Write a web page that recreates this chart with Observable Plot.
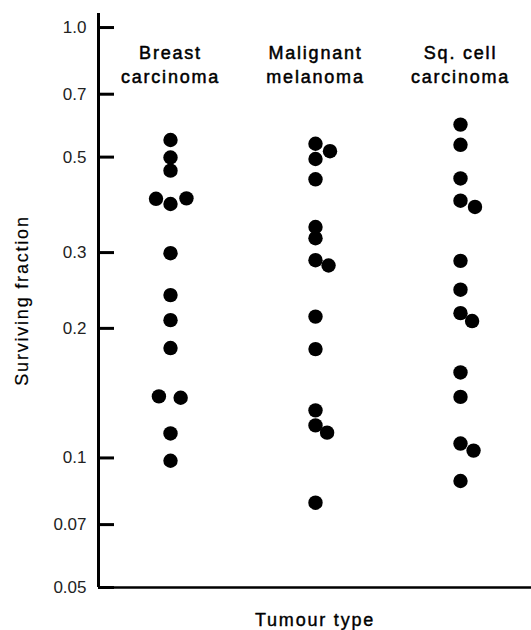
<!DOCTYPE html>
<html>
<head>
<meta charset="utf-8">
<script src="https://cdn.jsdelivr.net/npm/d3@7"></script>
<script src="https://cdn.jsdelivr.net/npm/@observablehq/plot@0.6"></script>
<style>
  html, body { margin: 0; padding: 0; background: #fff; }
  #chart svg { display: block; }
  .cat text, .cap text { letter-spacing: 1.8px; }
</style>
</head>
<body>
<div id="chart"></div>
<script>
// Categories
const categories = ["Breast\ncarcinoma", "Malignant\nmelanoma", "Sq. cell\ncarcinoma"];

// Surviving fractions (log scale)
const breastValues   = [0.548, 0.499, 0.465, 0.400, 0.389, 0.401, 0.299, 0.239, 0.209, 0.180, 0.139, 0.138, 0.114, 0.0985];
const breastOffset   = [0, 0, 0, -1, 0, 1.1, 0, 0, 0, 0, -0.8, 0.7, 0, 0];

const melanomaValues = [0.537, 0.516, 0.495, 0.444, 0.344, 0.324, 0.288, 0.280, 0.213, 0.179, 0.129, 0.119, 0.1145, 0.0787];
const melanomaOffset = [0, 1, 0, 0, 0, 0, 0, 0.9, 0, 0, 0, 0, 0.8, 0];

const sqValues       = [0.595, 0.534, 0.446, 0.396, 0.383, 0.287, 0.246, 0.217, 0.208, 0.158, 0.1386, 0.108, 0.104, 0.0884];
const sqOffset       = [0, 0, 0, 0, 1, 0, 0, 0, 0.8, 0, 0, 0, 0.9, 0];

// Axis ticks
const yTicks = [0.05, 0.07, 0.1, 0.2, 0.3, 0.5, 0.7, 1.0];
const yTickLabels = ["0.05", "0.07", "0.1", "0.2", "0.3", "0.5", "0.7", "1.0"];
const yLabel = "Surviving fraction";
const xLabel = "Tumour type";

// Build table
const series = [
  [breastValues, breastOffset],
  [melanomaValues, melanomaOffset],
  [sqValues, sqOffset]
];
const points = [];
series.forEach(([vals, offs], ci) => {
  vals.forEach((v, i) => points.push({cat: ci, value: v, offset: offs[i]}));
});
const labelMap = new Map(yTicks.map((t, i) => [t, yTickLabels[i]]));
const catRows = categories.map((c, i) => ({cat: i, label: c}));

const xDomain = [-0.4966, 2.4897];
const font = "'Liberation Sans', Arial, Helvetica, sans-serif";

const chart = Plot.plot({
  width: 531,
  height: 630,
  marginLeft: 98,
  marginRight: 0,
  marginTop: 13,
  marginBottom: 43,
  style: {fontFamily: font, background: "#fff", color: "#000"},
  x: {type: "linear", domain: xDomain, axis: null},
  y: {type: "log", domain: [0.05, 1.078], axis: null},
  marks: [
    Plot.axisY(yTicks, {
      anchor: "left",
      tickSize: -16,
      tickPadding: 28,
      strokeWidth: 3,
      stroke: "#000",
      tickFormat: d => labelMap.get(d),
      fontSize: 17,
      fill: "#222",
      label: null
    }),
    Plot.ruleX([xDomain[0]], {stroke: "#000", strokeWidth: 3}),
    Plot.ruleY([0.05], {stroke: "#000", strokeWidth: 2.5}),
    Plot.dot(points, {
      x: d => d.cat + d.offset * 0.1,
      y: "value",
      r: 7.2,
      fill: "#000",
      stroke: "none"
    }),
    Plot.text(catRows, {
      x: "cat",
      text: "label",
      frameAnchor: "top",
      lineAnchor: "top",
      dy: 29,
      lineHeight: 1.3,
      fontSize: 18,
      fill: "#000",
      stroke: "#000",
      strokeWidth: 0.5,
      className: "cat"
    }),
    Plot.text([yLabel], {
      frameAnchor: "left",
      text: d => d,
      rotate: -90,
      textAnchor: "middle",
      dx: -71,
      lineAnchor: "bottom",
      fontSize: 18,
      fill: "#000",
      stroke: "#000",
      strokeWidth: 0.2,
      className: "cap"
    }),
    Plot.text([xLabel], {
      frameAnchor: "bottom",
      text: d => d,
      lineAnchor: "bottom",
      dy: 38,
      fontSize: 18,
      fill: "#000",
      stroke: "#000",
      strokeWidth: 0.4,
      className: "cap"
    })
  ]
});
document.getElementById("chart").appendChild(chart);
</script>
</body>
</html>
